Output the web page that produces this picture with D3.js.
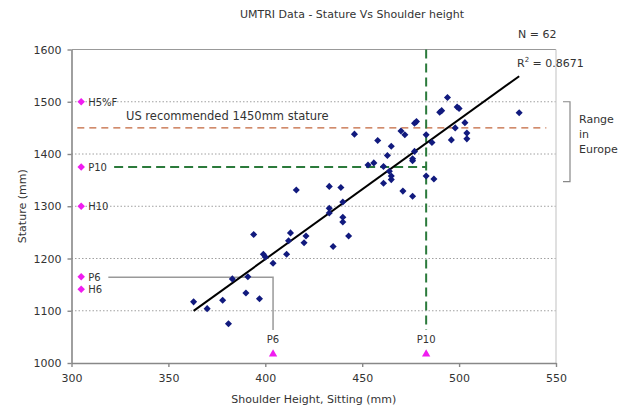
<!DOCTYPE html>
<html>
<head>
<meta charset="utf-8">
<script src="https://cdn.jsdelivr.net/npm/d3@7/dist/d3.min.js"></script>
<style>
	body { margin: 0; background: #fff; }
	text { font-family: "DejaVu Sans", Verdana, sans-serif; fill: #333; }
</style>
</head>
<body>
<div id="chart"></div>
<script>
// shoulder height sitting (mm) and stature (mm)
var shoulder = [363, 370, 378, 381, 383, 390, 391, 394, 397, 399, 400, 404, 411, 413, 412, 421, 420,
	416, 433, 439, 440, 433, 433, 440, 440, 443, 435, 461, 465, 465, 464, 461, 456, 453, 471, 476,
	483, 487, 463, 477, 476, 476, 465, 458, 446, 470, 472, 477, 478, 483, 486,
	494, 490, 491, 499, 500, 503, 498, 504, 504, 496, 531];
var stature = [1117, 1104, 1120, 1075, 1161, 1134, 1165, 1246, 1123, 1208, 1203, 1191, 1208, 1249, 1234, 1243, 1230,
	1331, 1338, 1336, 1308, 1296, 1287, 1279, 1270, 1243, 1223, 1344, 1351, 1358, 1367, 1376, 1383, 1379, 1329, 1319,
	1358, 1352, 1397, 1405, 1391, 1387, 1415, 1426, 1438, 1444, 1437, 1459, 1462, 1437, 1422,
	1508, 1480, 1483, 1490, 1487, 1460, 1450, 1440, 1429, 1427, 1479];

var xTicks = [300, 350, 400, 450, 500, 550];
var yTicks = [1000, 1100, 1200, 1300, 1400, 1500, 1600];
var gridValues = [1100, 1200, 1300, 1400, 1500];

// reference statures on the left
var refLabels = ["H5%F", "P10", "H10", "P6", "H6"];
var refStature = [1500, 1375, 1300, 1165, 1141];
var refX = 305;

// reference shoulder heights at the bottom
var baseLabels = ["P6", "P10"];
var baseShoulder = [404, 483];
var baseY = 1017;

var usStature = 1450, usFrom = 303, usTo = 545;
var p10 = {stature: 1375, shoulder: 483, from: 322, top: 1600, bottom: 1063};
var p6 = {stature: 1164, shoulder: 404, from: 319, bottom: 1063};
var europeRange = [1347, 1500];
var rSquared = "0.8671", nCount = 62;

const
	W = 630, H = 408,
	LEFT = 71.5, RIGHT = 556, TOP = 49.5, BOTTOM = 363,
	NAVY = "#111a7e", MAGENTA = "#f01cf0", GREEN = "#2b7a3b", ORANGE = "#c2663c";

var svg = d3.select("#chart").append("svg")
	.attr("width", W)
	.attr("height", H);

var x = d3.scaleLinear().domain([300, 550]).range([LEFT, RIGHT]);
var y = d3.scaleLinear().domain([1000, 1600]).range([BOTTOM, TOP]);

// grid
svg.append("g").selectAll("line")
	.data(gridValues).enter().append("line")
	.attr("x1", LEFT).attr("x2", RIGHT)
	.attr("y1", d => y(d)).attr("y2", d => y(d))
	.attr("stroke", "#a0a0a0")
	.attr("stroke-dasharray", "1.5,2");

// frame top / right
svg.append("line").attr("x1", LEFT).attr("x2", RIGHT).attr("y1", TOP).attr("y2", TOP)
	.attr("stroke", "#999").attr("stroke-width", 1.2);
svg.append("line").attr("x1", RIGHT).attr("x2", RIGHT).attr("y1", TOP).attr("y2", BOTTOM)
	.attr("stroke", "#ccc").attr("stroke-width", 1.2);

// axes
var gx = svg.append("g")
	.attr("transform", "translate(0," + BOTTOM + ")")
	.call(d3.axisBottom(x).tickValues(xTicks).tickSize(4).tickSizeOuter(0).tickPadding(7));
var gy = svg.append("g")
	.attr("transform", "translate(" + LEFT + ",0)")
	.call(d3.axisLeft(y).tickValues(yTicks).tickFormat(d3.format("d"))
		.tickSize(4).tickSizeOuter(0).tickPadding(6));
[gx, gy].forEach(function(g) {
	g.attr("font-family", null).attr("font-size", 11);
	g.select(".domain").attr("stroke", "#888").attr("stroke-width", 1.6);
	g.selectAll(".tick line").attr("stroke", "#888").attr("stroke-width", 1.4);
	g.selectAll(".tick text").attr("fill", "#333");
});

// US recommended stature
svg.append("line")
	.attr("x1", x(usFrom)).attr("x2", x(usTo))
	.attr("y1", y(usStature)).attr("y2", y(usStature))
	.attr("stroke", ORANGE).attr("stroke-width", 1.4)
	.attr("stroke-dasharray", "7,5");
svg.append("text")
	.attr("x", 126).attr("y", y(usStature) - 8)
	.attr("font-size", 11.5)
	.text("US recommended " + usStature + "mm stature");

// P10 lines
svg.append("line")
	.attr("x1", x(p10.from)).attr("x2", x(p10.shoulder))
	.attr("y1", y(p10.stature)).attr("y2", y(p10.stature))
	.attr("stroke", GREEN).attr("stroke-width", 2)
	.attr("stroke-dasharray", "9,5");
svg.append("line")
	.attr("x1", x(p10.shoulder)).attr("x2", x(p10.shoulder))
	.attr("y1", y(p10.top)).attr("y2", y(p10.bottom))
	.attr("stroke", GREEN).attr("stroke-width", 2)
	.attr("stroke-dasharray", "9,5");

// P6 connector
svg.append("path")
	.attr("d", "M" + x(p6.from) + "," + y(p6.stature) +
		"H" + x(p6.shoulder) + "V" + y(p6.bottom))
	.attr("fill", "none")
	.attr("stroke", "#999").attr("stroke-width", 1.5);

// trend line (least squares on the points)
var mx = d3.mean(shoulder), my = d3.mean(stature),
	sxy = d3.sum(shoulder, (v, i) => (v - mx) * (stature[i] - my)),
	sxx = d3.sum(shoulder, v => (v - mx) * (v - mx)),
	slope = sxy / sxx, icpt = my - slope * mx,
	xLo = d3.min(shoulder), xHi = d3.max(shoulder);
svg.append("line")
	.attr("x1", x(xLo)).attr("y1", y(icpt + slope * xLo))
	.attr("x2", x(xHi)).attr("y2", y(icpt + slope * xHi))
	.attr("stroke", "#000").attr("stroke-width", 2);

// points
var diamond = d3.symbol().type(d3.symbolSquare).size(25);
svg.append("g").selectAll("path")
	.data(shoulder).enter().append("path")
	.attr("d", diamond)
	.attr("transform", (d, i) => "translate(" + x(d) + "," + y(stature[i]) + ") rotate(45)")
	.attr("fill", NAVY);

// reference points left
var refDiamond = d3.symbol().type(d3.symbolSquare).size(28);
var gRef = svg.append("g");
refStature.forEach(function(v, i) {
	gRef.append("path")
		.attr("d", refDiamond)
		.attr("transform", "translate(" + x(refX) + "," + y(v) + ") rotate(45)")
		.attr("fill", MAGENTA);
	gRef.append("text")
		.attr("x", x(refX) + 7).attr("y", y(v) + 3.8)
		.attr("font-size", 10).attr("fill", "#444")
		.text(refLabels[i]);
});

// reference points bottom
var tri = d3.symbol().type(d3.symbolTriangle).size(30);
baseShoulder.forEach(function(v, i) {
	svg.append("path")
		.attr("d", tri)
		.attr("transform", "translate(" + x(v) + "," + y(baseY) + ")")
		.attr("fill", MAGENTA);
	svg.append("text")
		.attr("x", x(v)).attr("y", y(baseY) - 11)
		.attr("text-anchor", "middle")
		.attr("font-size", 10).attr("fill", "#444")
		.text(baseLabels[i]);
});

// Europe range bracket
var bx = 570;
svg.append("path")
	.attr("d", "M" + (bx - 7) + "," + y(europeRange[1]) + "H" + bx +
		"V" + y(europeRange[0]) + "H" + (bx - 7))
	.attr("fill", "none").attr("stroke", "#888").attr("stroke-width", 1.2);
["Range", "in", "Europe"].forEach(function(t, i) {
	svg.append("text")
		.attr("x", 579).attr("y", 123 + i * 15)
		.attr("font-size", 11)
		.text(t);
});

// titles
svg.append("text")
	.attr("x", 352).attr("y", 18)
	.attr("text-anchor", "middle")
	.attr("font-size", 11)
	.text("UMTRI Data - Stature Vs Shoulder height");

svg.append("text")
	.attr("x", 518).attr("y", 38)
	.attr("font-size", 11)
	.text("N = " + nCount);

var r2 = svg.append("text")
	.attr("x", 517).attr("y", 67)
	.attr("font-size", 11);
r2.append("tspan").text("R");
r2.append("tspan").attr("font-size", 7).attr("dy", -5).text("2");
r2.append("tspan").attr("dy", 5).text(" = " + rSquared);

svg.append("text")
	.attr("x", (LEFT + RIGHT) / 2).attr("y", 403)
	.attr("text-anchor", "middle")
	.attr("font-size", 11)
	.text("Shoulder Height, Sitting (mm)");

svg.append("text")
	.attr("transform", "translate(26," + (TOP + BOTTOM) / 2 + ") rotate(-90)")
	.attr("text-anchor", "middle")
	.attr("font-size", 11)
	.text("Stature (mm)");
</script>
</body>
</html>
